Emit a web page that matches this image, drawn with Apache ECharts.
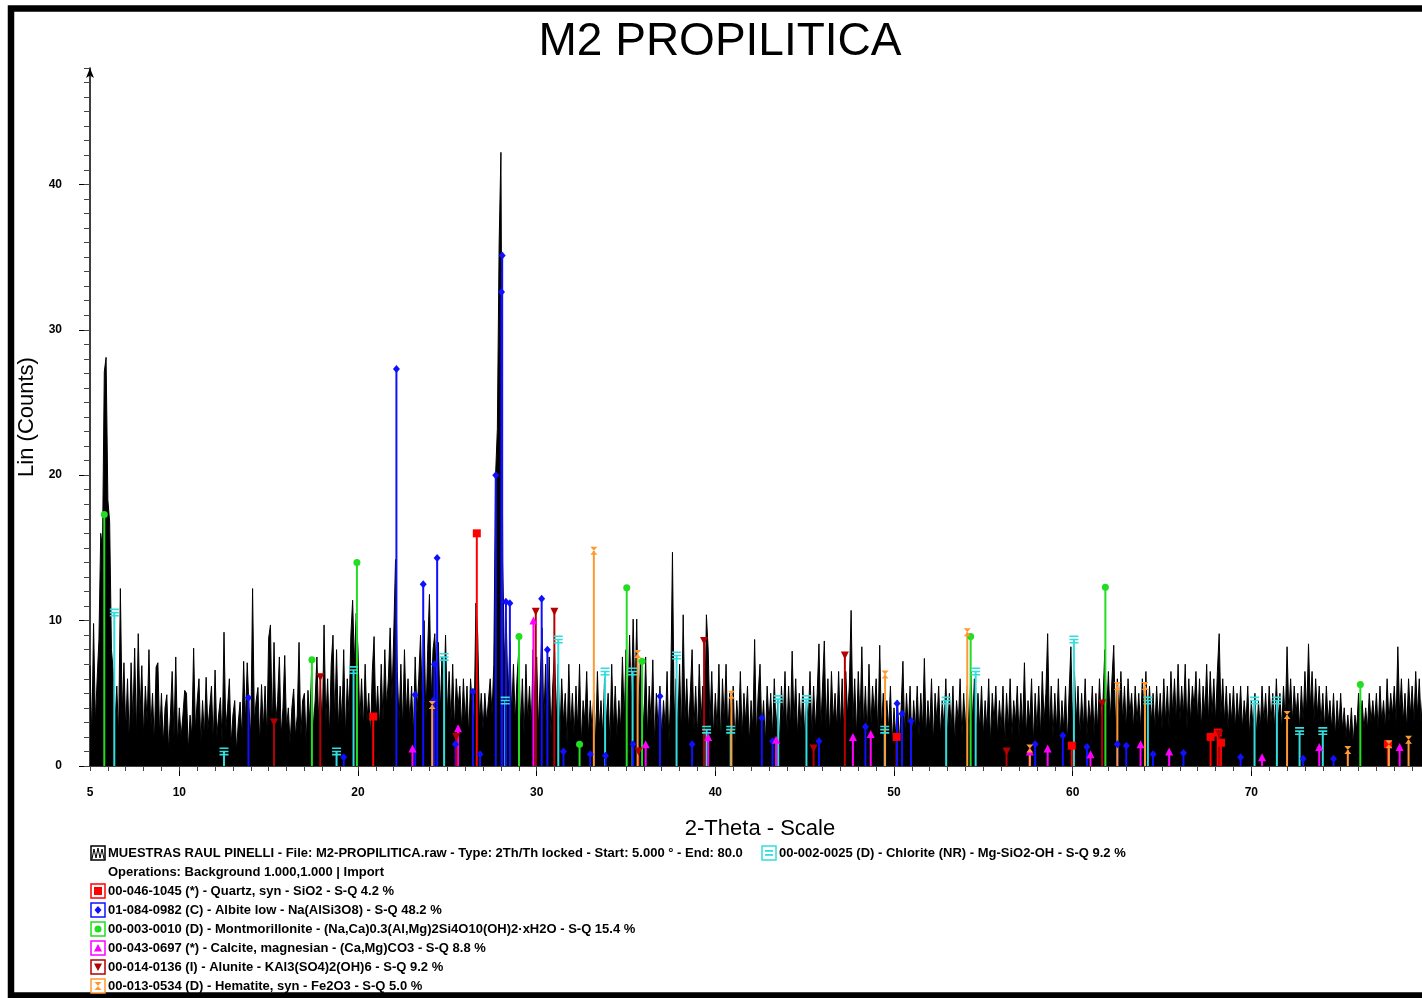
<!DOCTYPE html>
<html>
<head>
<meta charset="utf-8">
<title>M2 PROPILITICA</title>
<script src="https://cdn.jsdelivr.net/npm/echarts@6/dist/echarts.min.js"></script>
<style>
  html, body { margin: 0; padding: 0; background: #fff; overflow: hidden; }
  #chart { position: absolute; left: 0; top: 0; width: 1440px; height: 998px; }
</style>
</head>
<body>
<div id="chart"></div>
<script>
// raw scan: 2-theta from 5.0 to 80.0, one reading every 0.1 deg
const thetaStart = 5;
const thetaStep = 0.1;
const counts = [
  6.9,2.0,9.8,3.0,6.0,8.7,16.0,15.0,27.1,28.1,
  18.3,16.8,8.0,6.5,3.0,5.5,2.0,12.2,3.5,7.1,
  2.5,6.0,1.5,7.1,3.0,8.1,2.0,9.1,3.5,6.9,
  2.0,5.5,3.0,8.0,2.5,5.0,1.5,6.8,7.1,2.0,
  5.0,1.5,4.0,4.9,1.0,3.5,6.5,2.0,7.5,1.5,
  4.0,2.0,3.5,5.2,5.0,1.0,3.5,2.0,8.1,2.5,
  4.5,6.0,1.5,4.5,2.0,6.1,2.5,4.0,5.5,1.5,
  6.6,2.0,3.5,4.7,1.5,9.2,2.5,4.0,6.0,1.5,
  3.5,4.5,1.0,3.0,4.4,2.0,7.2,3.0,7.1,4.0,
  2.0,12.2,3.0,4.5,5.4,1.5,5.6,2.5,5.5,2.0,
  8.8,9.7,2.5,8.5,3.0,4.5,7.5,2.0,4.0,7.6,
  2.5,4.0,1.5,4.0,5.3,2.0,3.5,8.5,2.0,4.5,
  5.0,1.5,5.2,3.0,6.5,2.5,4.5,7.5,3.0,5.5,
  2.5,9.7,3.0,6.0,2.0,7.0,9.0,3.0,8.0,2.5,
  5.5,3.0,8.0,2.0,6.0,3.5,9.0,11.4,7.0,10.5,
  8.0,3.0,6.0,2.5,7.0,3.0,5.0,2.0,6.5,8.9,
  3.0,5.5,2.5,7.0,3.0,8.0,4.0,6.0,9.5,4.5,
  9.0,14.2,6.5,3.0,7.0,2.5,8.0,3.5,6.0,3.0,
  5.5,2.0,7.5,3.5,6.0,9.0,4.0,10.0,3.0,8.0,
  11.8,4.5,8.0,9.1,5.0,8.5,3.5,7.5,4.0,9.0,
  3.5,6.5,3.0,7.0,2.5,6.0,4.0,5.5,2.5,6.0,
  3.0,5.5,2.0,6.0,4.0,3.0,11.2,9.0,3.0,5.0,
  2.5,5.0,3.0,4.5,6.0,3.5,7.0,20.0,23.2,36.0,
  42.2,14.0,7.0,10.0,4.5,8.5,3.5,7.0,3.0,6.0,
  8.0,2.5,6.0,2.0,7.0,3.0,5.5,2.5,8.0,4.0,
  7.5,2.5,6.0,9.5,3.0,7.0,2.0,7.5,2.0,5.5,
  8.0,3.0,7.0,2.0,6.0,3.0,5.0,1.5,7.0,2.5,
  5.0,2.0,5.5,2.5,7.0,1.5,4.5,3.0,6.5,2.0,
  4.5,2.5,5.0,1.5,6.5,2.5,4.5,2.0,6.0,3.0,
  5.0,1.5,7.0,2.5,5.5,2.0,4.5,2.5,7.5,3.0,
  8.0,3.0,9.0,4.0,10.1,4.5,10.1,3.0,7.0,5.0,
  2.5,7.5,2.0,5.5,3.0,7.3,1.5,5.0,2.5,5.5,
  2.0,4.5,2.5,6.5,1.5,5.0,14.7,3.0,6.0,2.5,
  7.0,2.0,10.4,3.0,6.0,2.5,5.0,8.0,2.5,5.5,
  2.0,7.0,3.0,5.5,2.5,10.4,8.0,3.0,6.5,2.0,
  5.0,2.5,7.0,1.5,6.0,3.0,7.0,2.0,5.0,2.5,
  5.5,1.5,4.5,2.5,6.5,2.0,5.0,3.0,5.5,1.5,
  4.5,2.5,8.7,2.0,5.0,7.0,2.5,4.5,1.5,5.5,
  3.0,5.0,2.0,6.0,2.5,4.5,1.5,5.5,3.0,6.5,
  2.0,5.5,2.5,7.9,3.0,6.0,2.0,5.0,2.5,5.5,
  2.0,4.5,3.0,6.5,2.0,5.5,2.5,5.0,8.4,2.5,
  5.5,8.6,2.5,6.0,2.0,6.5,3.0,5.0,2.5,6.5,
  2.5,6.0,2.0,6.5,3.5,5.5,10.7,3.0,6.0,2.0,
  6.5,3.0,8.2,2.5,5.5,2.0,7.0,2.5,5.5,3.5,
  6.0,2.0,8.3,2.5,5.0,2.0,4.5,2.5,5.5,1.5,
  4.0,2.0,4.5,1.5,4.0,7.2,2.0,5.0,2.5,5.5,
  1.5,4.5,2.5,5.5,2.0,5.0,2.5,7.4,2.0,4.5,
  2.5,6.0,1.5,5.0,3.0,5.5,2.0,4.5,2.5,6.0,
  2.0,5.0,2.5,5.5,1.5,4.5,3.0,6.0,2.0,5.0,
  2.5,5.5,2.0,6.5,3.0,6.0,2.0,5.0,2.5,5.5,
  2.0,4.5,2.5,6.0,1.5,5.0,3.0,5.5,2.0,4.5,
  2.5,5.5,1.5,5.0,2.5,6.0,2.0,4.5,3.0,5.5,
  2.0,5.0,2.5,7.1,2.0,4.5,3.0,6.0,1.5,5.0,
  2.5,5.5,2.0,6.5,3.0,5.0,9.1,2.5,5.5,2.0,
  5.0,2.5,6.0,2.0,4.5,2.5,5.5,1.5,5.0,8.2,
  2.5,6.5,3.0,5.5,2.0,5.0,2.5,6.0,2.0,4.5,
  3.0,5.5,2.0,5.0,2.5,6.0,3.0,4.5,8.0,3.5,
  6.5,3.0,6.0,8.3,2.5,6.0,3.5,6.5,3.0,5.5,
  2.5,6.0,3.5,5.0,2.5,5.5,3.0,5.0,2.5,6.0,
  3.5,6.5,2.5,5.5,3.0,5.0,2.5,5.5,3.0,5.0,
  2.5,6.0,3.0,5.5,2.5,6.5,3.5,6.0,3.0,7.0,
  3.0,5.5,3.5,7.0,2.5,6.0,3.0,5.5,4.0,6.5,
  3.0,6.0,2.5,5.5,3.5,7.0,3.0,6.5,3.5,6.0,
  3.0,6.5,9.1,3.5,6.0,3.0,5.5,2.5,5.0,3.0,
  5.5,2.5,5.0,3.0,5.5,2.5,4.5,3.0,5.5,2.0,
  4.5,2.5,5.0,2.0,4.5,2.5,5.5,3.0,5.0,2.5,
  5.5,3.0,5.0,2.5,6.0,3.0,5.0,2.5,5.5,3.0,
  8.2,3.5,6.0,3.0,5.5,3.5,5.0,2.5,5.5,3.0,
  6.5,3.5,8.4,4.0,6.5,3.0,6.0,3.5,5.5,3.0,
  5.0,2.5,5.5,3.0,4.5,2.5,5.0,2.0,4.5,2.5,
  5.0,2.5,4.0,2.0,3.5,2.0,4.0,1.5,3.5,2.5,
  5.0,3.0,4.5,2.5,4.0,2.5,5.0,3.0,4.5,3.0,
  5.0,2.5,5.5,3.0,4.5,2.5,6.0,3.0,5.0,3.5,
  5.5,3.0,8.2,3.5,6.0,3.0,5.0,2.5,6.0,3.5,
  5.5,3.0,6.5,3.5,6.0,3.0,5.0,3.5,5.5,3.0,
  3.5
];

const xLabelValues = [5, 10, 20, 30, 40, 50, 60, 70, 80];
const xMajorTicks = [10, 20, 30, 40, 50, 60, 70, 80];
const yLabelValues = [0, 10, 20, 30, 40];

// reference patterns, [2-theta, height]
const quartzPeaks = [[20.85, 3.4], [26.65, 16.0], [50.15, 2.0], [59.95, 1.4], [67.72, 2.0], [68.12, 2.3],
  [68.3, 1.6], [77.65, 1.5]];
const albitePeaks = [[13.87, 4.7], [19.2, 0.6], [22.15, 27.3], [23.2, 4.9], [23.65, 12.5], [24.22, 4.5],
  [24.28, 7.0], [24.43, 14.3], [25.45, 1.5], [26.43, 5.1], [26.83, 0.8], [27.71, 20.0], [28.03, 32.6],
  [28.07, 35.1], [28.28, 11.3], [28.5, 11.2], [30.28, 11.5], [30.6, 8.0], [31.5, 1.0], [33.0, 0.8],
  [33.85, 0.7], [35.4, 1.5], [36.9, 4.8], [38.7, 1.5], [42.6, 3.3], [43.2, 1.7], [45.8, 1.7],
  [48.4, 2.7], [50.17, 4.3], [50.45, 3.6], [50.95, 3.1], [57.9, 1.5], [59.45, 2.1], [60.8, 1.3],
  [62.5, 1.5], [63.0, 1.4], [64.5, 0.8], [66.2, 0.9], [69.4, 0.6], [72.9, 0.5], [74.6, 0.5]];
const montPeaks = [[5.8, 17.3], [17.42, 7.3], [19.94, 14.0], [29.01, 8.9], [32.4, 1.5], [35.04, 12.25],
  [35.9, 7.2], [54.29, 8.9], [61.83, 12.3], [76.1, 5.6]];
const calcitePeaks = [[23.05, 1.2], [25.6, 2.6], [29.82, 10.0], [36.1, 1.5], [39.6, 2.0], [43.4, 1.8],
  [47.7, 2.0], [48.7, 2.2], [57.6, 1.0], [58.6, 1.2], [61.0, 0.8], [63.8, 1.5], [65.4, 1.0],
  [70.6, 0.6], [73.8, 1.3], [78.3, 1.3]];
const alunitePeaks = [[15.3, 3.0], [17.89, 6.1], [25.5, 2.0], [29.95, 10.6], [30.99, 10.6], [35.7, 1.0],
  [39.37, 8.6], [45.5, 1.2], [47.25, 7.6], [56.3, 1.0], [61.65, 4.3], [68.2, 2.2]];
const hematitePeaks = [[24.15, 4.2], [33.2, 14.8], [35.65, 7.7], [40.9, 4.9], [49.5, 6.3], [54.1, 9.2],
  [57.6, 1.2], [62.5, 5.5], [64.05, 5.5], [72.0, 3.5], [75.4, 1.1], [77.7, 1.5], [78.8, 1.8]];
const chloritePeaks = [[6.36, 10.55], [12.5, 1.0], [18.8, 1.0], [19.75, 6.6], [24.82, 7.5], [28.24, 4.5],
  [31.21, 8.7], [33.83, 6.5], [35.37, 6.5], [37.83, 7.6], [39.51, 2.5], [40.86, 2.5], [43.52, 4.6],
  [45.1, 4.6], [49.48, 2.5], [52.92, 4.5], [54.57, 6.5], [60.07, 8.7], [64.21, 4.5], [70.18, 4.5],
  [71.43, 4.5], [72.7, 2.4], [74.0, 2.4]];

const HOURGLASS = 'path://M0,0L10,0L0,12L10,12Z';
const BARS = 'path://M0,0H10V2H0Z M0,4H10V6H0Z M0,8H10V10H0Z';

const phases = [
  { name: 'Chlorite', peaks: chloritePeaks, color: '#33dddd', symbol: BARS, size: [9, 8], icon: 'bars',
    label: '00-002-0025 (D) - Chlorite (NR) - Mg-SiO2-OH - S-Q 9.2 %' },
  { name: 'Quartz', peaks: quartzPeaks, color: '#ff0000', symbol: 'rect', size: 8, icon: 'square',
    label: '00-046-1045 (*) - Quartz, syn - SiO2 - S-Q 4.2 %' },
  { name: 'Albite', peaks: albitePeaks, color: '#1010ff', symbol: 'diamond', size: [7, 8], icon: 'diamond',
    label: '01-084-0982 (C) - Albite low - Na(AlSi3O8) - S-Q 48.2 %' },
  { name: 'Montmorillonite', peaks: montPeaks, color: '#22dd22', symbol: 'circle', size: 7, icon: 'circle',
    label: '00-003-0010 (D) - Montmorillonite - (Na,Ca)0.3(Al,Mg)2Si4O10(OH)2·xH2O - S-Q 15.4 %' },
  { name: 'Calcite', peaks: calcitePeaks, color: '#ff00ff', symbol: 'triangle', size: 8, icon: 'triangle',
    label: '00-043-0697 (*) - Calcite, magnesian - (Ca,Mg)CO3 - S-Q 8.8 %' },
  { name: 'Alunite', peaks: alunitePeaks, color: '#b40000', symbol: 'triangle', rotate: 180, size: 8, icon: 'down',
    label: '00-014-0136 (I) - Alunite - KAl3(SO4)2(OH)6 - S-Q 9.2 %' },
  { name: 'Hematite', peaks: hematitePeaks, color: '#ff9933', symbol: HOURGLASS, size: [7, 8], icon: 'hourglass',
    label: '00-013-0534 (D) - Hematite, syn - Fe2O3 - S-Q 5.0 %' }
];

const scanLabel = 'MUESTRAS RAUL PINELLI - File: M2-PROPILITICA.raw - Type: 2Th/Th locked - Start: 5.000 ° - End: 80.0';
const opsLabel = 'Operations: Background 1.000,1.000 | Import';

const FONT = '"Liberation Sans", Arial, sans-serif';

const scanData = counts.map((c, i) => [+(thetaStart + i * thetaStep).toFixed(2), c]);

function stickSeries(p) {
  return {
    name: p.name,
    type: 'custom',
    z: 3,
    renderItem: function (params, api) {
      const a = api.coord([api.value(0), 0]);
      const b = api.coord([api.value(0), api.value(1)]);
      return {
        type: 'line',
        shape: { x1: a[0], y1: a[1], x2: b[0], y2: b[1] },
        style: { stroke: p.color, lineWidth: 2 }
      };
    },
    encode: { x: 0, y: 1 },
    data: p.peaks
  };
}

function markerSeries(p) {
  return {
    name: p.name,
    type: 'scatter',
    z: 4,
    symbol: p.symbol,
    symbolRotate: p.rotate || 0,
    symbolSize: p.size,
    itemStyle: { color: p.color, opacity: 1 },
    data: p.peaks
  };
}

// legend box icons drawn with graphic elements
function legendIcon(x, cy, color, kind) {
  const kids = [{
    type: 'rect', shape: { x: x, y: cy - 7, width: 14, height: 14 },
    style: { fill: '#fff', stroke: color, lineWidth: 1.5 }
  }];
  const c = { x: x + 7, y: cy };
  if (kind === 'square') kids.push({ type: 'rect', shape: { x: c.x - 4, y: c.y - 4, width: 8, height: 8 }, style: { fill: color } });
  if (kind === 'diamond') kids.push({ type: 'polygon', shape: { points: [[c.x, c.y - 4], [c.x + 3.5, c.y], [c.x, c.y + 4], [c.x - 3.5, c.y]] }, style: { fill: color } });
  if (kind === 'circle') kids.push({ type: 'circle', shape: { cx: c.x, cy: c.y, r: 3.5 }, style: { fill: color } });
  if (kind === 'triangle') kids.push({ type: 'polygon', shape: { points: [[c.x, c.y - 4], [c.x + 4, c.y + 3.5], [c.x - 4, c.y + 3.5]] }, style: { fill: color } });
  if (kind === 'down') kids.push({ type: 'polygon', shape: { points: [[c.x - 4, c.y - 3.5], [c.x + 4, c.y - 3.5], [c.x, c.y + 4]] }, style: { fill: color } });
  if (kind === 'hourglass') kids.push({ type: 'polygon', shape: { points: [[c.x - 3.5, c.y - 4], [c.x + 3.5, c.y - 4], [c.x - 3.5, c.y + 4], [c.x + 3.5, c.y + 4]] }, style: { fill: color } });
  if (kind === 'bars') {
    kids.push({ type: 'rect', shape: { x: c.x - 4, y: c.y - 3, width: 8, height: 1.8 }, style: { fill: color } });
    kids.push({ type: 'rect', shape: { x: c.x - 4, y: c.y + 1, width: 8, height: 1.8 }, style: { fill: color } });
  }
  if (kind === 'scan') kids.push({ type: 'polyline', shape: { points: [[x + 1, cy + 6], [x + 3, cy - 4], [x + 5, cy + 5], [x + 7, cy - 5], [x + 9, cy + 5], [x + 11, cy - 4], [x + 13, cy + 6]] }, style: { stroke: '#000', lineWidth: 1, fill: null } });
  return { type: 'group', children: kids };
}

function legendText(x, cy, text) {
  return {
    type: 'text', x: x, y: cy,
    style: { text: text, fill: '#000', font: 'bold 13px ' + FONT, verticalAlign: 'middle', align: 'left' }
  };
}

const rowY = [853, 872, 891, 910, 929, 948, 967, 986];
const graphics = [
  // outer frame
  { type: 'rect', shape: { x: 11, y: 8.5, width: 1500, height: 987 }, style: { fill: null, stroke: '#000', lineWidth: 6.5 }, silent: true },
  legendIcon(91, rowY[0], '#000', 'scan'),
  legendText(108, rowY[0], scanLabel),
  legendIcon(762, rowY[0], phases[0].color, phases[0].icon),
  legendText(779, rowY[0], phases[0].label),
  legendText(108, rowY[1], opsLabel)
];
phases.slice(1).forEach((p, i) => {
  graphics.push(legendIcon(91, rowY[i + 2], p.color, p.icon));
  graphics.push(legendText(108, rowY[i + 2], p.label));
});

const axisText = { color: '#000', fontWeight: 'bold', fontSize: 12, fontFamily: FONT };

const chart = echarts.init(document.getElementById('chart'));
chart.setOption({
  animation: false,
  backgroundColor: '#fff',
  title: {
    text: 'M2 PROPILITICA',
    left: 'center',
    top: 14,
    textStyle: { fontSize: 46, fontWeight: 'normal', color: '#000', fontFamily: FONT }
  },
  grid: { left: 90, right: 10, top: 68, bottom: 232, outerBoundsMode: 'none' },
  xAxis: [{
    type: 'value', min: 5, max: 80, position: 'bottom',
    name: '2-Theta - Scale', nameLocation: 'middle', nameGap: 52,
    nameTextStyle: { fontSize: 22, color: '#000', fontFamily: FONT },
    axisLine: { lineStyle: { color: '#000', width: 1.5 } },
    axisTick: { customValues: xMajorTicks, length: 10, lineStyle: { color: '#000' } },
    axisLabel: { customValues: xLabelValues, margin: 21, ...axisText },
    splitLine: { show: false }
  }, {
    type: 'value', min: 5, max: 80, interval: 1, position: 'bottom',
    axisLine: { show: false },
    axisTick: { length: 5, lineStyle: { color: '#444' } },
    axisLabel: { show: false },
    splitLine: { show: false }
  }],
  yAxis: [{
    type: 'value', min: 0, max: 48, position: 'left',
    name: 'Lin (Counts)', nameLocation: 'middle', nameGap: 50, nameRotate: 90,
    nameTextStyle: { fontSize: 22, color: '#000', fontFamily: FONT },
    axisLine: { show: true, symbol: ['none', 'arrow'], symbolSize: [6, 10], lineStyle: { color: '#000', width: 1.5 } },
    axisTick: { customValues: yLabelValues, length: 11, lineStyle: { color: '#000' } },
    axisLabel: { customValues: yLabelValues, margin: 28, ...axisText },
    splitLine: { show: false }
  }, {
    type: 'value', min: 0, max: 48, interval: 1, position: 'left',
    axisLine: { show: false },
    axisTick: { show: true, length: 6, lineStyle: { color: '#444' } },
    axisLabel: { show: false },
    splitLine: { show: false }
  }],
  graphic: graphics,
  series: [{
    name: 'M2 PROPILITICA',
    type: 'line',
    z: 2,
    showSymbol: false,
    data: scanData,
    lineStyle: { color: '#000', width: 1 },
    areaStyle: { color: '#000', opacity: 1 }
  }].concat(phases.map(stickSeries), phases.map(markerSeries))
});
</script>
</body>
</html>
